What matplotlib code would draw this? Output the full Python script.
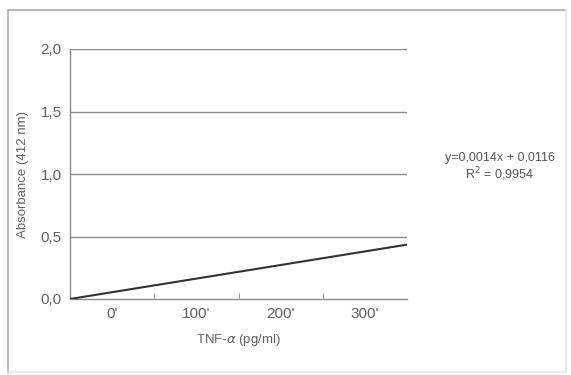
import matplotlib.pyplot as plt
from matplotlib.lines import Line2D

# Data
tick_pos = [0, 1, 2, 3]
tick_labels = ["0'", "100'", "200'", "300'"]
y_ticks = [0.0, 0.5, 1.0, 1.5, 2.0]
y_labels = ["0,0", "0,5", "1,0", "1,5", "2,0"]
line_x = [-0.5, 3.5]
line_y = [0.0, 0.435]
equation = "y=0,0014x + 0,0116"
r_squared = "R$^2$ = 0,9954"

plt.rcParams['font.family'] = ['Liberation Sans', 'DejaVu Sans']
W, H = 571, 375
fig = plt.figure(figsize=(W / 100, H / 100), dpi=100)

# outer frame: top and left darker, right and bottom faint (as in the scan)
def frame_line(x0, y0, x1, y1, c):
    fig.lines.append(Line2D([x0 / W, x1 / W], [1 - y0 / H, 1 - y1 / H],
                            transform=fig.transFigure, color=c, linewidth=1.2))

frame_line(8, 10, 566, 10, '#a8a8a8')
frame_line(8, 10, 8, 373, '#b0b0b0')
frame_line(566, 10, 566, 373, '#e4e4e4')
frame_line(8, 372, 566, 372, '#e8e8e8')

ax = fig.add_axes([70 / W, 1 - 299 / H, 337 / W, 250 / H])
ax.set_xlim(-0.5, 3.5)
ax.set_ylim(0, 2.0)

for v in y_ticks[1:]:
    ax.axhline(v, color='#8a8a8a', linewidth=1.0, zorder=1)

ax.plot(line_x, line_y, color='#333333', linewidth=1.5, zorder=3)

ax.set_yticks(y_ticks)
ax.set_yticklabels(y_labels)
ax.set_xticks(tick_pos)
ax.set_xticklabels(tick_labels)
ax.set_xticks([0.5, 1.5, 2.5], minor=True)
ax.tick_params(axis='x', which='major', length=0, pad=6, labelsize=11, labelcolor='#606060')
ax.tick_params(axis='x', which='minor', direction='in', length=4, color='#8a8a8a')
ax.tick_params(axis='y', length=0, pad=6, labelsize=11, labelcolor='#606060')

for s in ['top', 'right']:
    ax.spines[s].set_visible(False)
for s in ['left', 'bottom']:
    ax.spines[s].set_color('#8a8a8a')
    ax.spines[s].set_linewidth(1.0)

ax.set_ylabel('Absorbance (412 nm)', fontsize=9.5, color='#606060', labelpad=8)
ax.set_xlabel(r'TNF-$\alpha$ (pg/ml)', fontsize=9.5, color='#606060', labelpad=8)

fig.text(500 / W, 1 - 158 / H, equation, ha='center', va='center', fontsize=9, color='#555555')
fig.text(500 / W, 1 - 174 / H, r_squared, ha='center', va='center', fontsize=9, color='#555555')

fig.savefig('out.png', dpi=100, facecolor='white')
